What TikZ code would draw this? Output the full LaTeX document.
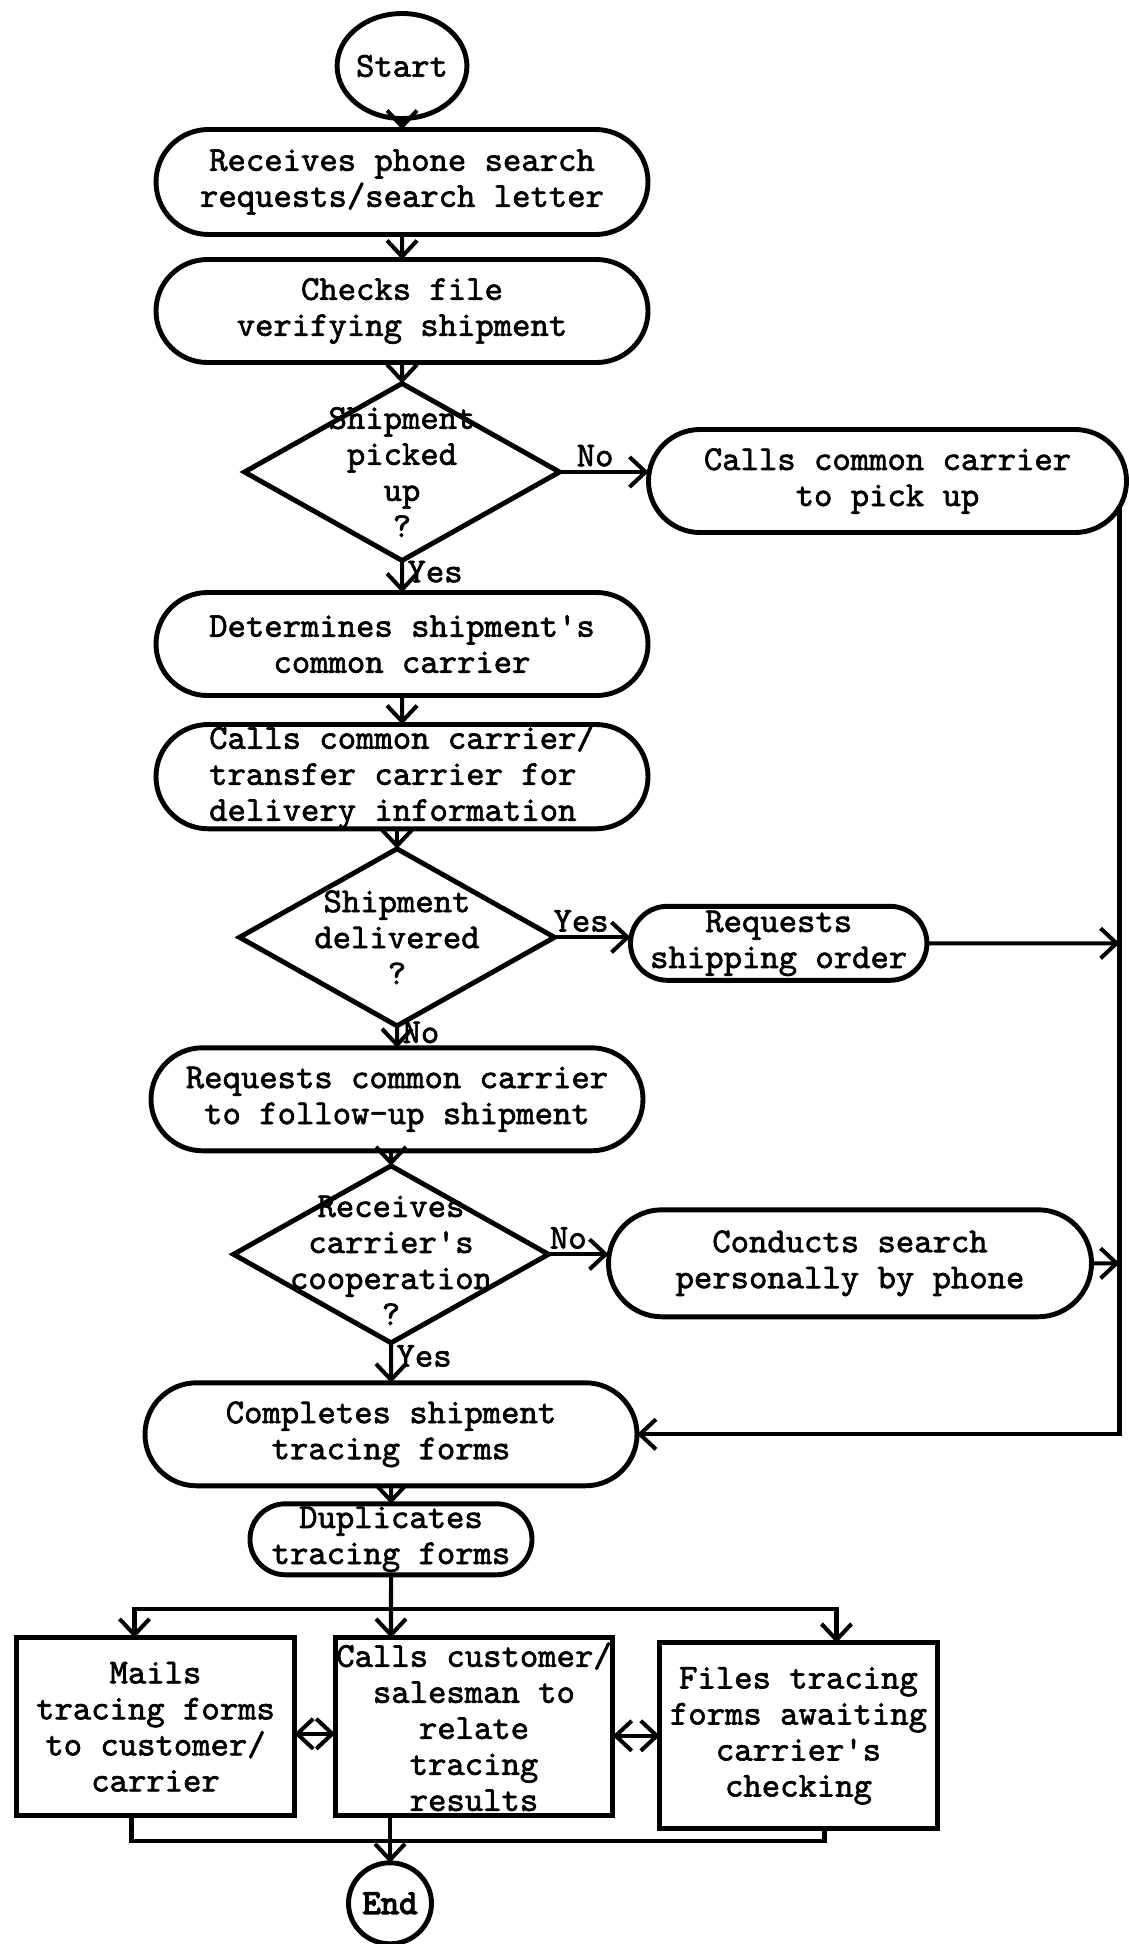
\documentclass[tikz,border=0pt]{standalone}
\usepackage{fontspec}
\newfontfamily\tw{lmmono10-regular.otf}[FakeBold=1.8]
\newfontfamily\twb{lmmono10-regular.otf}[FakeBold=3.5]
\newcommand\twsize{\tw\fontsize{19.9pt}{20.5pt}\selectfont}
\usetikzlibrary{positioning,shapes.geometric,shapes.misc,arrows.meta}
\tikzset{
  rnd/.style={rounded rectangle, draw, line width=2.8pt, outer sep=0pt, minimum width=9.84cm, minimum height=2.06cm, inner sep=0pt, align=center, font=\twsize},
  dec/.style={diamond, draw, line width=2.8pt, outer sep=0pt, minimum width=6.3cm, minimum height=3.54cm, inner sep=0pt},
  dtext/.style={align=center, inner sep=0pt, font=\twsize},
  blk/.style={rectangle, draw, line width=2.8pt, outer sep=0pt, minimum width=5.55cm, minimum height=3.56cm, inner sep=0pt, align=center, font=\twsize},
  endpt/.style={ellipse, draw, line width=2.8pt, outer sep=0pt, minimum width=1.86cm, minimum height=2.1cm, inner sep=0pt, font=\twsize},
  lbl/.style={inner sep=2pt, font=\twsize}
}
\begin{document}
\begin{tikzpicture}[line width=2.3pt, >={Straight Barb[length=0.32cm,width=0.6cm]}]
\useasboundingbox (0,0) rectangle (22.56,-38.88);
\node[endpt](st) at (8.04,-1.32){Start};
\node[rnd, below=0.22cm of st, minimum height=2.1cm](b1){Receives phone search\\requests/search letter};
\node[rnd, below=0.5cm of b1](b2){Checks file\\verifying shipment};
\node[dec, below=0.42cm of b2](d1){};
\node[dtext](d1t) at (d1){Shipment\\picked\\up\\?};
\node[rnd, right=1.78cm of d1, yshift=-0.18cm, minimum width=9.56cm](p1){Calls common carrier\\to pick up};
\node[rnd, below=0.64cm of d1](b3){Determines shipment\textquotesingle s\\common carrier};
\node[rnd, below=0.58cm of b3, minimum height=2.04cm, align=left](b4){Calls common carrier/\\transfer carrier for\\delivery information};
\node[dec, below=0.4cm of b4, xshift=-0.1cm](d2){};
\node[dtext](d2t) at (d2){Shipment\\delivered\\?};
\node[rnd, right=1.52cm of d2, yshift=-0.12cm, minimum width=5.54cm, minimum height=1.48cm](p2){Requests\\shipping order};
\node[rnd, below=0.44cm of d2](b5){Requests common carrier\\to follow-up shipment};
\node[dec, below=0.3cm of b5, xshift=-0.12cm](d3){};
\node[dtext, yshift=-0.12cm](d3t) at (d3){Receives\\carrier\textquotesingle s\\cooperation\\?};
\node[rnd, right=1.2cm of d3, yshift=-0.18cm, minimum width=9.66cm, minimum height=2.14cm](p3){Conducts search\\personally by phone};
\node[rnd, below=0.8cm of d3](b6){Completes shipment\\tracing forms};
\node[rnd, below=0.36cm of b6, minimum width=5.62cm, minimum height=1.42cm](b7){Duplicates\\tracing forms};
\node[blk, below=1.26cm of b7, xshift=1.66cm](m2){Calls customer/\\salesman to\\relate\\tracing\\results};
\node[blk, left=0.82cm of m2](m1){Mails\\tracing forms\\to customer/\\carrier};
\node[blk, right=0.94cm of m2, yshift=-0.18cm, minimum height=3.72cm](m3){Files tracing\\forms awaiting\\carrier\textquotesingle s\\checking};
\node[endpt, below=0.94cm of m2, xshift=-1.68cm, minimum width=1.66cm, minimum height=1.62cm, font=\twb\fontsize{19.9pt}{20.5pt}\selectfont](en){End};
% main column
\draw[->] (st) -- (b1);
\draw[->] (b1) -- (b2);
\draw[->] (b2) -- (d1);
\draw[->] (d1) -- node[lbl, above, pos=0.4]{No} (d1.east -| p1.west);
\draw[->] (d1) -- node[lbl, right, pos=0.35]{Yes} (b3);
\draw[->] (b3) -- (b4);
\draw[->] (b4.south -| d2) -- (d2);
\draw[->] (d2) -- node[lbl, above, pos=0.35]{Yes} (d2.east -| p2.west);
\draw[->] (d2) -- node[lbl, right, pos=0.3]{No} (b5);
\draw[->] (b5.south -| d3) -- (d3);
\draw[->] (d3) -- node[lbl, above, pos=0.33]{No} (d3.east -| p3.west);
\draw[->] (d3) -- node[lbl, right, pos=0.33]{Yes} (b6);
\draw[->] (b6) -- (b7);
% return line on the right
\coordinate (c1) at ([xshift=-0.14cm, yshift=-0.5cm]p1.east);
\draw[->] (c1) |- (b6);
\draw[->] (p2) -- (p2 -| c1);
\draw[->] (p3) -- (p3 -| c1);
% forms split three ways
\coordinate[below=0.68cm of b7.south](bus);
\draw[->] (b7) -- (b7 |- m2.north);
\draw[->] (bus) -| ([xshift=-0.42cm]m1.north);
\draw[->] (bus) -| ([xshift=0.76cm]m3.north);
\draw[<->] ([yshift=-0.14cm]m1.east) -- ([yshift=-0.14cm]m1.east -| m2.west);
\draw[<->] ([yshift=-0.18cm]m2.east) -- ([yshift=-0.18cm]m2.east -| m3.west);
\draw ([xshift=-0.48cm]m1.south) -- ++(0,-0.5) -| ([xshift=0.52cm]m3.south);
\draw[->] (m2.south -| en) -- (en);
\end{tikzpicture}
\end{document}
